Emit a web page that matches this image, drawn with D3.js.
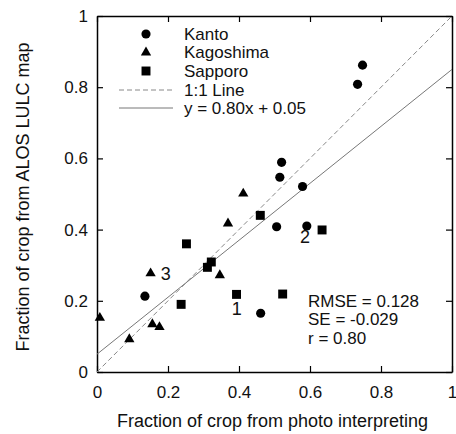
<!DOCTYPE html>
<html>
<head>
<meta charset="utf-8">
<script src="https://cdn.jsdelivr.net/npm/d3@7"></script>
<style>
  body { margin: 0; background: #fff; }
  text { font-family: "Liberation Sans", Arial, sans-serif; }
</style>
</head>
<body>
<svg id="chart"></svg>
<script>
// values
var kantoX = [0.135, 0.461, 0.506, 0.515, 0.520, 0.579, 0.591, 0.734, 0.748];
var kantoY = [0.213, 0.165, 0.408, 0.547, 0.589, 0.521, 0.410, 0.808, 0.862];
var kagoshimaX = [0.008, 0.091, 0.151, 0.156, 0.176, 0.346, 0.369, 0.412];
var kagoshimaY = [0.152, 0.092, 0.277, 0.134, 0.126, 0.272, 0.417, 0.501];
var sapporoX = [0.237, 0.252, 0.311, 0.322, 0.393, 0.460, 0.523, 0.634];
var sapporoY = [0.190, 0.360, 0.294, 0.309, 0.218, 0.440, 0.219, 0.399];
var tickValues = [0, 0.2, 0.4, 0.6, 0.8, 1];
var fitSlope = 0.80, fitIntercept = 0.05;
var notes = [{t: "1", x: 0.394, y: 0.177}, {t: "2", x: 0.586, y: 0.379}, {t: "3", x: 0.194, y: 0.275}];
var stats = ["RMSE = 0.128", "SE = -0.029", "r = 0.80"];

var W = 456, H = 434;
var margin = {top: 16, right: 4, bottom: 62, left: 97};
var fs = 17;

var svg = d3.select("#chart").attr("width", W).attr("height", H);

var x = d3.scaleLinear().domain([0, 1]).range([margin.left, W - margin.right]);
var y = d3.scaleLinear().domain([0, 1]).range([H - margin.bottom, margin.top]);

var fmt = d => d === 0 || d === 1 ? String(d) : d3.format(".1f")(d);

// axes, ticks pointing inward on all four sides
svg.append("g")
    .attr("transform", `translate(0,${y(0)})`)
    .call(d3.axisBottom(x).tickValues(tickValues).tickFormat(fmt).tickSize(-6).tickSizeOuter(0).tickPadding(14));
svg.append("g")
    .attr("transform", `translate(${x(0)},0)`)
    .call(d3.axisLeft(y).tickValues(tickValues).tickFormat(fmt).tickSize(-6).tickSizeOuter(0).tickPadding(9));
svg.append("g")
    .attr("transform", `translate(0,${y(1)})`)
    .call(d3.axisTop(x).tickValues(tickValues).tickFormat("").tickSize(-6).tickSizeOuter(0));
svg.append("g")
    .attr("transform", `translate(${x(1)},0)`)
    .call(d3.axisRight(y).tickValues(tickValues).tickFormat("").tickSize(-6).tickSizeOuter(0));

svg.selectAll(".domain").attr("stroke", "#000").attr("stroke-width", 1.5);
svg.selectAll(".tick line").attr("stroke", "#000").attr("stroke-width", 1.2);
svg.selectAll(".tick text").attr("font-size", fs).attr("fill", "#111")
    .style("font-family", "'Liberation Sans', Arial, sans-serif");

// reference lines
svg.append("line")
    .attr("x1", x(0)).attr("y1", y(0)).attr("x2", x(1)).attr("y2", y(1))
    .attr("stroke", "#888").attr("stroke-width", 1).attr("stroke-dasharray", "5,3");
svg.append("line")
    .attr("x1", x(0)).attr("y1", y(fitIntercept))
    .attr("x2", x(1)).attr("y2", y(fitSlope + fitIntercept))
    .attr("stroke", "#777").attr("stroke-width", 1);

// points
function drawPoints(xs, ys, type, size) {
  svg.append("g").selectAll("path")
    .data(xs.map((v, i) => [v, ys[i]]))
    .enter().append("path")
    .attr("d", d3.symbol().type(type).size(size))
    .attr("transform", d => `translate(${x(d[0])},${y(d[1])})`)
    .attr("fill", "#000");
}
drawPoints(kantoX, kantoY, d3.symbolCircle, 66);
drawPoints(kagoshimaX, kagoshimaY, d3.symbolTriangle, 46);
drawPoints(sapporoX, sapporoY, d3.symbolSquare, 80);

svg.append("g").selectAll("text")
  .data(notes)
  .enter().append("text")
    .attr("x", d => x(d.x)).attr("y", d => y(d.y))
    .attr("text-anchor", "middle").attr("dy", "0.35em")
    .attr("font-size", 18).attr("fill", "#111")
    .text(d => d.t);

// stats block
svg.append("g").selectAll("text")
  .data(stats)
  .enter().append("text")
    .attr("x", 308).attr("y", (d, i) => 301 + i * 18.5)
    .attr("dy", "0.35em").attr("font-size", fs).attr("fill", "#111")
    .text(d => d);

// legend
var legend = svg.append("g");
var sym = [
  {name: "Kanto", type: d3.symbolCircle, size: 66},
  {name: "Kagoshima", type: d3.symbolTriangle, size: 46},
  {name: "Sapporo", type: d3.symbolSquare, size: 80}
];
sym.forEach(function(s, i) {
  var ly = 34 + i * 18.5;
  legend.append("path")
    .attr("d", d3.symbol().type(s.type).size(s.size))
    .attr("transform", `translate(146,${ly})`);
  legend.append("text").attr("x", 184).attr("y", ly).attr("dy", "0.35em")
    .attr("font-size", fs).attr("fill", "#111").text(s.name);
});
legend.append("line").attr("x1", 119).attr("x2", 173).attr("y1", 90).attr("y2", 90)
  .attr("stroke", "#888").attr("stroke-dasharray", "5,3");
legend.append("text").attr("x", 184).attr("y", 90).attr("dy", "0.35em")
  .attr("font-size", fs).attr("fill", "#111").text("1:1 Line");
legend.append("line").attr("x1", 119).attr("x2", 173).attr("y1", 108).attr("y2", 108)
  .attr("stroke", "#777");
legend.append("text").attr("x", 184).attr("y", 108).attr("dy", "0.35em")
  .attr("font-size", fs).attr("fill", "#111").text("y = 0.80x + 0.05");

// axis titles
svg.append("text")
  .attr("x", (x(0) + x(1)) / 2 - 2).attr("y", 421).attr("dy", "0.35em")
  .attr("text-anchor", "middle").attr("font-size", 18).attr("fill", "#111")
  .text("Fraction of crop from photo interpreting");
svg.append("text")
  .attr("transform", `translate(23,${(y(0) + y(1)) / 2 + 3}) rotate(-90)`)
  .attr("dy", "0.35em")
  .attr("text-anchor", "middle").attr("font-size", 18).attr("fill", "#111")
  .text("Fraction of crop from ALOS LULC map");
</script>
</body>
</html>
